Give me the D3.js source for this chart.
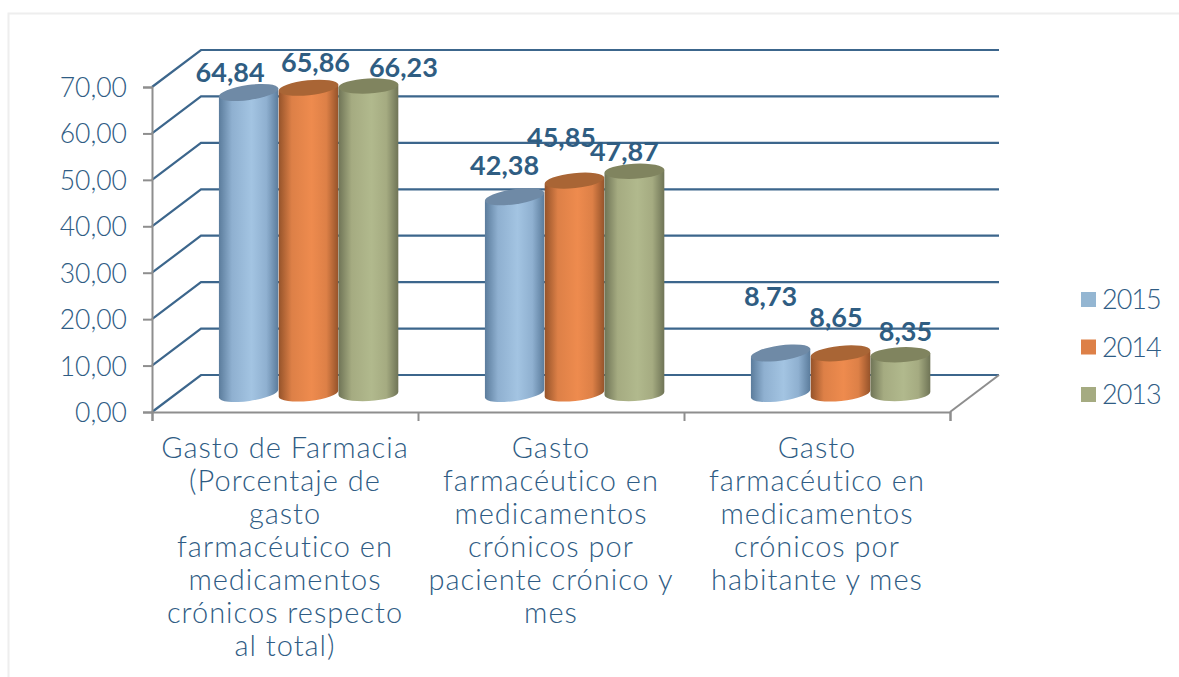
<!DOCTYPE html>
<html>
<head>
<meta charset="utf-8">
<script src="https://cdn.jsdelivr.net/npm/d3@7"></script>
<style>
  html, body { margin: 0; padding: 0; background: #fff; }
  svg { display: block; }
  text { font-family: Lato, "Open Sans", sans-serif; fill: #2f5c84; }
</style>
</head>
<body>
<div id="chart"></div>
<script>
// chart values
var categoryLines = [
  ['Gasto de Farmacia', '(Porcentaje de', 'gasto', 'farmacéutico en', 'medicamentos', 'crónicos respecto', 'al total)'],
  ['Gasto', 'farmacéutico en', 'medicamentos', 'crónicos por', 'paciente crónico y', 'mes'],
  ['Gasto', 'farmacéutico en', 'medicamentos', 'crónicos por', 'habitante y mes']
];
var seriesNames = ['2015', '2014', '2013'];
var values2015 = [64.84, 42.38, 8.73];
var values2014 = [65.86, 45.85, 8.65];
var values2013 = [66.23, 47.87, 8.35];
var yTicks = [0, 10, 20, 30, 40, 50, 60, 70];

var allValues = [values2015, values2014, values2013];
var W = 1179, H = 677;

// front plane of the 3d box, back wall is offset by depth
var plot = { left: 152, right: 950, top: 87, bottom: 412 };
var depth = { x: 49, y: -37 };

var colors = [
  { light: '#a3c4e2', mid: '#8fb0d0', dark: '#5b7c9c', top: '#6f8aa6', key: '#94b6d2' },
  { light: '#ee8b4e', mid: '#dd8047', dark: '#95532a', top: '#a96535', key: '#dd8047' },
  { light: '#b1b98d', mid: '#a5ab81', dark: '#6f7456', top: '#80845f', key: '#a5ab81' }
];
var tilt = [-8, -6, -3];   // cylinder caps lean with the perspective

var fmt = function (v) { return v.toFixed(2).replace('.', ','); };

var x0 = d3.scaleBand().domain(d3.range(categoryLines.length)).range([plot.left, plot.right]);
var y = d3.scaleLinear().domain([0, 70]).range([plot.bottom, plot.top]);
// three cylinders touching each other, about two thirds of a category
var x1 = d3.scaleBand().domain(d3.range(seriesNames.length)).range([0, x0.bandwidth()]).paddingInner(0).paddingOuter(0.72);

var svg = d3.select('#chart').append('svg').attr('width', W).attr('height', H);

// outer frame of the original picture
svg.append('path')
  .attr('d', 'M8.5,677V13.5H1179')
  .attr('fill', 'none').attr('stroke', '#eeeeee').attr('stroke-width', 2);

var defs = svg.append('defs');
colors.forEach(function (c, i) {
  var g = defs.append('linearGradient').attr('id', 'cyl' + i);
  g.append('stop').attr('offset', '0%').attr('stop-color', c.dark);
  g.append('stop').attr('offset', '22%').attr('stop-color', c.mid);
  g.append('stop').attr('offset', '55%').attr('stop-color', c.light);
  g.append('stop').attr('offset', '80%').attr('stop-color', c.mid);
  g.append('stop').attr('offset', '100%').attr('stop-color', c.dark);
});

// back wall grid lines with their diagonals
var grid = svg.append('g').attr('fill', 'none').attr('stroke', '#3c668c').attr('stroke-width', 2.2);
grid.selectAll('path').data(yTicks).enter().append('path')
  .attr('d', function (t) {
    return 'M' + plot.left + ',' + y(t) + 'L' + (plot.left + depth.x) + ',' + (y(t) + depth.y) +
      'H' + (plot.right + depth.x);
  });

// floor edge and axes
var axisColor = '#8e8e8e';
svg.append('path')
  .attr('d', 'M' + plot.right + ',' + plot.bottom + 'L' + (plot.right + depth.x) + ',' + (plot.bottom + depth.y))
  .attr('fill', 'none').attr('stroke', axisColor).attr('stroke-width', 2);

var yAxis = svg.append('g').attr('transform', 'translate(' + plot.left + ',0)')
  .call(d3.axisLeft(y).tickValues(yTicks).tickFormat(fmt).tickSize(9).tickPadding(16));
var xAxis = svg.append('g').attr('transform', 'translate(0,' + plot.bottom + ')')
  .call(d3.axisBottom(d3.scaleLinear().domain([0, 3]).range([plot.left, plot.right])).ticks(3).tickFormat('').tickSize(9));
[yAxis, xAxis].forEach(function (a) {
  a.selectAll('path, line').attr('stroke', axisColor).attr('stroke-width', 2);
});
yAxis.selectAll('text').attr('font-size', 26.5).attr('font-weight', 300)
  .attr('font-family', 'Lato').attr('dy', '0.36em').style('fill', '#2f5c84');

// cylinders sit half way into the box
var rx = x1.bandwidth() / 2, ry = 7.5;
var shiftX = depth.x / 2 - 1, shiftY = depth.y / 2;
function barX(ci, si) { return x0(ci) + x1(si) + rx + shiftX; }

var bars = svg.append('g');
categoryLines.forEach(function (c, ci) {
  allValues.forEach(function (vals, si) {
    var cx = barX(ci, si);
    var yBase = y(0) + shiftY;
    var yTop = y(vals[ci]) + shiftY;
    var a = tilt[si] * Math.PI / 180;
    var dx = rx * Math.cos(a), dy = rx * Math.sin(a);
    var g = bars.append('g');
    g.append('path')
      .attr('d', 'M' + (cx - dx) + ',' + (yTop - dy) +
        'L' + (cx - dx) + ',' + (yBase - dy) +
        'A' + rx + ',' + ry + ' ' + tilt[si] + ' 0 0 ' + (cx + dx) + ',' + (yBase + dy) +
        'L' + (cx + dx) + ',' + (yTop + dy) + 'Z')
      .attr('fill', 'url(#cyl' + si + ')');
    g.append('ellipse')
      .attr('rx', rx).attr('ry', ry)
      .attr('transform', 'translate(' + cx + ',' + yTop + ') rotate(' + tilt[si] + ')')
      .attr('fill', colors[si].top);
  });
});

// value labels were dragged by hand in the original, offsets from the cap centre
var labelOffset = [
  [[-18.5, -10], [7, -16], [35, -9.5]],
  [[-10, -22], [-13, -34], [-10, -10]],
  [[-10, -46.5], [-4.5, -26], [5, -14]]
];
var labels = svg.append('g').attr('font-size', 27).attr('font-weight', 700).attr('text-anchor', 'middle');
categoryLines.forEach(function (c, ci) {
  allValues.forEach(function (vals, si) {
    labels.append('text')
      .attr('x', barX(ci, si) + labelOffset[ci][si][0])
      .attr('y', y(vals[ci]) + shiftY + labelOffset[ci][si][1])
      .style('fill', '#2f5d82')
      .text(fmt(vals[ci]));
  });
});

// category labels, wrapped as in the original
var lineH = 33;
var catG = svg.append('g').attr('font-size', 29).attr('font-weight', 300)
  .attr('letter-spacing', 1).attr('text-anchor', 'middle');
categoryLines.forEach(function (lines, ci) {
  lines.forEach(function (l, li) {
    catG.append('text')
      .attr('x', x0(ci) + x0.bandwidth() / 2)
      .attr('y', 458 + li * lineH)
      .text(l);
  });
});

// legend
var legend = svg.append('g').selectAll('g').data(seriesNames).enter().append('g')
  .attr('transform', function (d, i) { return 'translate(1081,' + (292 + i * 47.5) + ')'; });
legend.append('rect').attr('width', 15).attr('height', 15)
  .attr('fill', function (d, i) { return colors[i].key; });
legend.append('text').attr('x', 21).attr('y', 17).attr('font-size', 27).attr('font-weight', 300)
  .attr('letter-spacing', -1).text(function (d) { return d; });
</script>
</body>
</html>
